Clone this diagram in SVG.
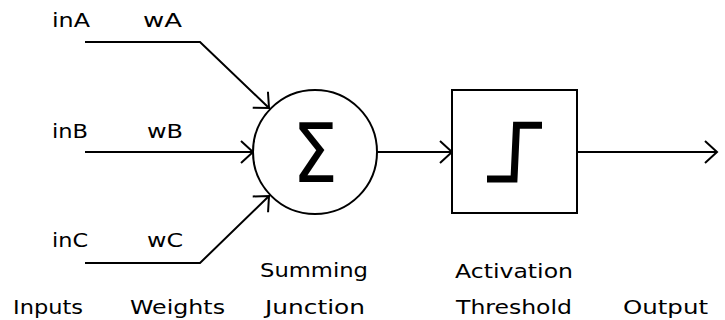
<svg xmlns="http://www.w3.org/2000/svg" width="725" height="320" viewBox="0 0 725 320">
<style>
.lbl{font-family:"DejaVu Sans","Liberation Sans",sans-serif;font-size:20px;fill:#000}
.ln{fill:none;stroke:#000;stroke-width:2}
.shape{fill:#fff;stroke:#000;stroke-width:2}
</style>
<defs>
<marker id="arr" markerUnits="userSpaceOnUse" viewBox="-14 -13 16 26" refX="0" refY="0" markerWidth="16" markerHeight="26" orient="auto" overflow="visible">
<path d="M-12,-11 L0,0 L-12,11" fill="none" stroke="#000" stroke-width="2"/>
</marker>
</defs>
<rect width="725" height="320" fill="#fff"/>
<g id="connectors">
<polyline class="ln" points="85,42 200,42 269,108" marker-end="url(#arr)"/>
<polyline class="ln" points="85,152 253,152" marker-end="url(#arr)"/>
<polyline class="ln" points="85,263 200,263 269,196" marker-end="url(#arr)"/>
<polyline class="ln" points="377,152 452,152" marker-end="url(#arr)"/>
<polyline class="ln" points="577,152 717,152" marker-end="url(#arr)"/>
</g>
<g id="summing">
<circle class="shape" cx="315" cy="152" r="62"/>
<text x="315" y="182" text-anchor="middle" font-family="DejaVu Sans, sans-serif" font-size="82" transform="translate(315 0) scale(0.88 1) translate(-315 0)">Σ</text>
</g>
<g id="activation">
<rect class="shape" x="452" y="90" width="125" height="123"/>
<path d="M487,179 H514 L516.5,125.3 H542" fill="none" stroke="#000" stroke-width="7" stroke-linejoin="miter"/>
</g>
<g id="labels">
<text class="lbl" x="52" y="27" textLength="38" lengthAdjust="spacingAndGlyphs">inA</text>
<text class="lbl" x="143" y="27" textLength="39" lengthAdjust="spacingAndGlyphs">wA</text>
<text class="lbl" x="52" y="138" textLength="36" lengthAdjust="spacingAndGlyphs">inB</text>
<text class="lbl" x="147" y="138" textLength="36" lengthAdjust="spacingAndGlyphs">wB</text>
<text class="lbl" x="52" y="247" textLength="36" lengthAdjust="spacingAndGlyphs">inC</text>
<text class="lbl" x="147" y="247" textLength="36" lengthAdjust="spacingAndGlyphs">wC</text>
<text class="lbl" x="260" y="277" textLength="108" lengthAdjust="spacingAndGlyphs">Summing</text>
<text class="lbl" x="265" y="314" textLength="100" lengthAdjust="spacingAndGlyphs">Junction</text>
<text class="lbl" x="13" y="314" textLength="70" lengthAdjust="spacingAndGlyphs">Inputs</text>
<text class="lbl" x="130" y="314" textLength="95" lengthAdjust="spacingAndGlyphs">Weights</text>
<text class="lbl" x="455" y="278" textLength="118" lengthAdjust="spacingAndGlyphs">Activation</text>
<text class="lbl" x="456" y="314" textLength="116" lengthAdjust="spacingAndGlyphs">Threshold</text>
<text class="lbl" x="623" y="314" textLength="85" lengthAdjust="spacingAndGlyphs">Output</text>
</g>
</svg>
